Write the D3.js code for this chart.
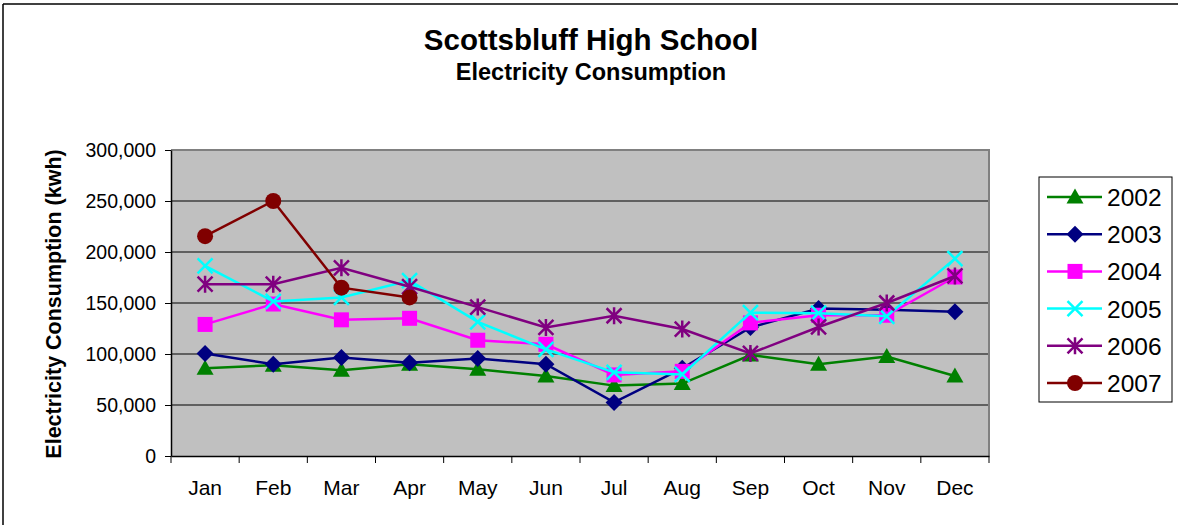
<!DOCTYPE html>
<html><head><meta charset="utf-8">
<script src="https://cdn.jsdelivr.net/npm/d3@7"></script>
<style>body{margin:0;background:#fff;}svg{display:block;font-family:"Liberation Sans",Arial,sans-serif;}</style>
</head><body>
<svg id="chart" width="1178" height="525"></svg>
<script>
const months = ["Jan","Feb","Mar","Apr","May","Jun","Jul","Aug","Sep","Oct","Nov","Dec"];
const years = ["2002","2003","2004","2005","2006","2007"];
const yTicks = [0,50000,100000,150000,200000,250000,300000];
const s2002 = [86000,89000,84000,90000,85000,78500,69000,71000,99000,90000,97500,78500];
const s2003 = [100500,90000,96500,91500,95500,90000,52500,86000,126000,144500,143500,141500];
const s2004 = [129000,149000,133500,135000,113500,109500,79500,83000,130500,138000,138000,175500];
const s2005 = [186500,151500,155500,172000,131500,104500,82000,80000,140500,140000,137000,193500];
const s2006 = [168500,168500,184500,166000,146000,126000,137500,124500,100500,126500,150000,176500];
const s2007 = [215500,250000,165000,155500];
const seriesValues = [s2002,s2003,s2004,s2005,s2006,s2007];
const colors = ["#008000","#000080","#FF00FF","#00FFFF","#800080","#800000"];
const markers = ["triangle","diamond","square","x","star","circle"];

const FONT = "Liberation Sans, Arial, sans-serif";
const svg = d3.select("#chart");
// outer border (top/left visible)
svg.append("line").attr("x1",3).attr("x2",1178).attr("y1",4).attr("y2",4).attr("stroke","#000").attr("stroke-width",1.5);
svg.append("line").attr("x1",3).attr("x2",3).attr("y1",4).attr("y2",525).attr("stroke","#000").attr("stroke-width",1.5);

const L=171,R=989,T=150,B=456;
const x = d3.scaleBand().domain(months).range([L,R]);
const y = d3.scaleLinear().domain([0,300000]).range([B,T]);

svg.append("rect").attr("x",L).attr("y",T).attr("width",R-L).attr("height",B-T).attr("fill","#C0C0C0");
// gridlines
svg.append("g").selectAll("line").data(yTicks.filter(d=>d>0&&d<300000)).join("line")
  .attr("x1",L).attr("x2",R).attr("y1",d=>y(d)).attr("y2",d=>y(d)).attr("stroke","#000").attr("stroke-width",1);
// plot border top/right gray
svg.append("path").attr("d",`M${L},${T}H${R}V${B}`).attr("fill","none").attr("stroke","#808080").attr("stroke-width",2);

// axes
const yAxis = d3.axisLeft(y).tickValues(yTicks).tickSize(6).tickSizeOuter(0).tickFormat(d3.format(","));
const gy = svg.append("g").attr("transform",`translate(${L},0)`).call(yAxis);
gy.select(".domain").attr("stroke","#000").attr("stroke-width",1.5);
gy.selectAll(".tick line").attr("stroke","#000");
gy.selectAll("text").attr("font-size",19.5).attr("x",-15).attr("fill","#000").attr("font-family",FONT);

const xAxis = d3.axisBottom(x).tickSize(0).tickSizeOuter(0);
const gx = svg.append("g").attr("transform",`translate(0,${B})`).call(xAxis);
gx.select(".domain").attr("stroke","#000").attr("stroke-width",1.5);
gx.selectAll("text").attr("font-size",21).attr("dy",0).attr("y",39).attr("fill","#000").attr("font-family",FONT);
// category boundary ticks
const bounds = months.map(m=>x(m)).concat([R]);
svg.append("g").selectAll("line").data(bounds).join("line")
  .attr("x1",d=>d).attr("x2",d=>d).attr("y1",B).attr("y2",B+7).attr("stroke","#000").attr("stroke-width",1);

// titles
svg.append("text").attr("x",591).attr("y",50).attr("text-anchor","middle").attr("font-size",29.5).attr("font-weight","bold").text("Scottsbluff High School");
svg.append("text").attr("x",591).attr("y",80).attr("text-anchor","middle").attr("font-size",23.5).attr("font-weight","bold").text("Electricity Consumption");
svg.append("text").attr("transform","translate(61,304) rotate(-90)").attr("text-anchor","middle").attr("font-size",21.5).attr("font-weight","bold").text("Electricity Consumption (kwh)");

function drawMarker(g, type, cx, cy, color){
  const s=7.5;
  if(type==="triangle") g.append("path").attr("d",`M${cx},${cy-s-1}L${cx+s+1},${cy+s-1}L${cx-s-1},${cy+s-1}Z`).attr("fill",color);
  else if(type==="diamond") g.append("path").attr("d",`M${cx},${cy-s-1}L${cx+s+1},${cy}L${cx},${cy+s+1}L${cx-s-1},${cy}Z`).attr("fill",color);
  else if(type==="square") g.append("rect").attr("x",cx-s).attr("y",cy-s).attr("width",2*s).attr("height",2*s).attr("fill",color);
  else if(type==="x") g.append("path").attr("d",`M${cx-s},${cy-s}L${cx+s},${cy+s}M${cx-s},${cy+s}L${cx+s},${cy-s}`).attr("stroke",color).attr("stroke-width",2.5).attr("fill","none");
  else if(type==="star") g.append("path").attr("d",`M${cx-s},${cy-s}L${cx+s},${cy+s}M${cx-s},${cy+s}L${cx+s},${cy-s}M${cx},${cy-s-1}L${cx},${cy+s+1}`).attr("stroke",color).attr("stroke-width",2.5).attr("fill","none");
  else if(type==="circle") g.append("circle").attr("cx",cx).attr("cy",cy).attr("r",s+0.5).attr("fill",color);
}

const line = d3.line().x((d,i)=>x(months[i])+x.bandwidth()/2).y(d=>y(d));
seriesValues.forEach((vals,si)=>{
  const g = svg.append("g");
  g.append("path").attr("d",line(vals)).attr("fill","none").attr("stroke",colors[si]).attr("stroke-width",2.5);
  vals.forEach((v,i)=>drawMarker(g,markers[si],x(months[i])+x.bandwidth()/2,y(v),colors[si]));
});

// legend
const lg = svg.append("g");
lg.append("rect").attr("x",1039).attr("y",177).attr("width",133).attr("height",225).attr("fill","#fff").attr("stroke","#000").attr("stroke-width",1);
const ly = d3.scalePoint().domain(years).range([197,383]);
years.forEach((yr,si)=>{
  const cy = ly(yr);
  lg.append("line").attr("x1",1047).attr("x2",1102).attr("y1",cy).attr("y2",cy).attr("stroke",colors[si]).attr("stroke-width",2.5);
  drawMarker(lg,markers[si],1075,cy,colors[si]);
  lg.append("text").attr("x",1107).attr("y",cy+9).attr("font-size",24.5).text(yr);
});
</script>
</body></html>
